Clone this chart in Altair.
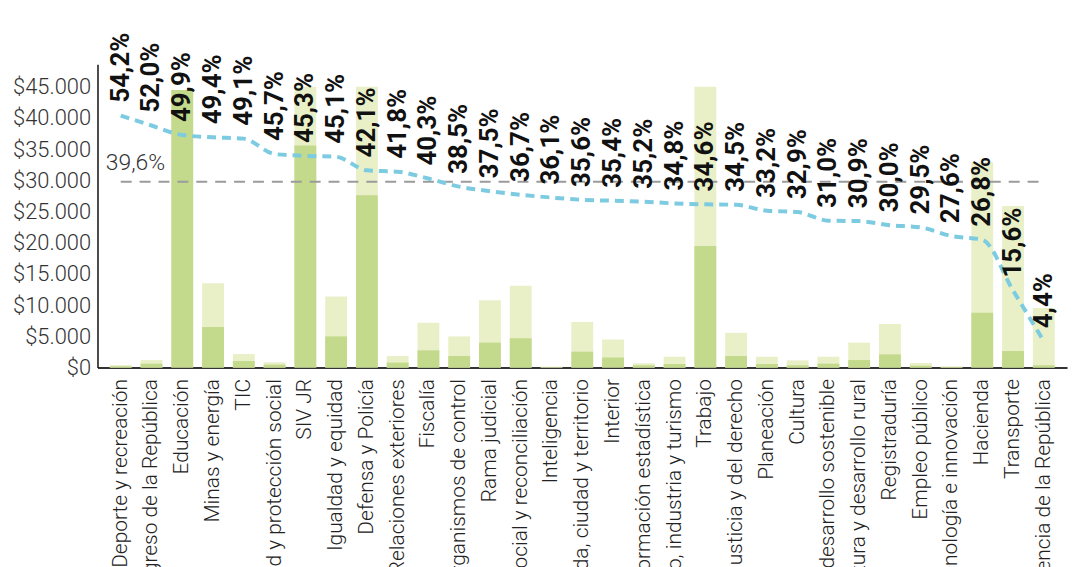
import altair as alt
import pandas as pd

cats = [
    "Deporte y recreación", "Congreso de la República", "Educación", "Minas y energía", "TIC",
    "Salud y protección social", "SIV JR", "Igualdad y equidad", "Defensa y Policía",
    "Relaciones exteriores", "Fiscalía", "Organismos de control", "Rama judicial",
    "Inclusión social y reconciliación", "Inteligencia", "Vivienda, ciudad y territorio",
    "Interior", "Información estadística", "Comercio, industria y turismo", "Trabajo",
    "Justicia y del derecho", "Planeación", "Cultura", "Ambiente y desarrollo sostenible",
    "Agricultura y desarrollo rural", "Registraduría", "Empleo público",
    "Ciencia, tecnología e innovación", "Hacienda", "Transporte", "Presidencia de la República",
]
total = [400, 1210, 44500, 13500, 2170, 850, 45000, 11400, 45000, 1850, 7200, 5000, 10800,
         13100, 150, 7300, 4500, 690, 1750, 45000, 5580, 1750, 1160, 1750, 4000, 7000, 740,
         200, 32900, 25900, 9570]
executed = [200, 630, 44500, 6500, 1050, 470, 35600, 5000, 27600, 800, 2760, 1850, 4000,
            4700, 60, 2550, 1600, 370, 580, 19500, 1850, 580, 370, 630, 1210, 2120, 300,
            80, 8800, 2650, 370]
pct = [54.2, 52.0, 49.9, 49.4, 49.1, 45.7, 45.3, 45.1, 42.1, 41.8, 40.3, 38.5, 37.5, 36.7,
       36.1, 35.6, 35.4, 35.2, 34.8, 34.6, 34.5, 33.2, 32.9, 31.0, 30.9, 30.0, 29.5, 27.6,
       26.8, 15.6, 4.4]
avg_pct = 39.6
y_ticks = [0, 5000, 10000, 15000, 20000, 25000, 30000, 35000, 40000, 45000]

df = pd.DataFrame({"cat": cats, "total": total, "executed": executed, "pct": pct})
avg_df = pd.DataFrame({"cat": [cats[0], cats[-1]], "pct": [avg_pct, avg_pct],
                       "first": [True, False]})

FONT = "Roboto, Liberation Sans, sans-serif"

x = alt.X("cat:N", sort=cats, title=None,
          scale=alt.Scale(paddingInner=0.29, paddingOuter=0.4),
          axis=alt.Axis(labelAngle=-90, labelAlign="right", labelBaseline="middle",
                        labelFont=FONT, labelFontSize=21, labelFontWeight=300,
                        labelColor="#222", labelPadding=11, ticks=False, tickSize=0,
                        domainColor="#333", domainWidth=2, labelLimit=0,
                        labelOverlap=False))
ydollar = alt.Scale(domain=[0, 48600], nice=False, zero=True)
ypct = alt.Scale(domain=[-1.43, 65.5], nice=False, zero=False)

light = alt.Chart(df).mark_bar(color="#e9f0c7").encode(
    x=x,
    y=alt.Y("total:Q", scale=ydollar, title=None,
            axis=alt.Axis(values=y_ticks,
                          labelExpr='"$" + replace(format(datum.value, ",.0f"), ",", ".")',
                          grid=False, ticks=False, tickSize=0, labelPadding=7,
                          labelFont=FONT, labelFontSize=22, labelFontWeight=300,
                          labelColor="#333", domainColor="#111", domainWidth=1.5)),
)
dark = alt.Chart(df).mark_bar(color="#c3d98b").encode(
    x=x, y=alt.Y("executed:Q", scale=ydollar, axis=None))

avg_line = alt.Chart(avg_df).mark_line(color="#9b9b9b", strokeDash=[11, 8], strokeWidth=2).encode(
    x=x, y=alt.Y("pct:Q", scale=ypct, axis=None))
avg_text = alt.Chart(avg_df).transform_filter("datum.first").transform_calculate(
    label='replace(format(datum.pct, ".1f"), ".", ",") + "%"'
).mark_text(align="left", baseline="middle", dx=-15, dy=-19, font=FONT, fontSize=23,
            fontWeight=300, color="#333").encode(
    x=x, y=alt.Y("pct:Q", scale=ypct, axis=None), text="label:N")

pct_line = alt.Chart(df).mark_line(color="#7dcbe1", strokeDash=[9, 6], strokeWidth=4,
                                   interpolate="monotone").encode(
    x=x, y=alt.Y("pct:Q", scale=ypct, axis=None))
pct_text = alt.Chart(df).transform_calculate(
    label='replace(format(datum.pct, ".1f"), ".", ",") + "%"'
).mark_text(angle=270, align="left", baseline="middle", dx=13, font=FONT, fontSize=26,
            fontWeight="bold", color="#111").encode(
    x=x, y=alt.Y("pct:Q", scale=ypct, axis=None), text="label:N")

chart = alt.layer(light, dark, avg_line, pct_line, avg_text, pct_text).resolve_scale(
    y="independent"
).properties(
    width=975, height=305,
    autosize=alt.AutoSizeParams(type="none"),
    padding={"left": 90, "top": 55, "right": 5, "bottom": 220},
    background="white",
).configure_view(stroke=None)

chart.save("out.html", embed_options={"renderer": "svg", "actions": False})
